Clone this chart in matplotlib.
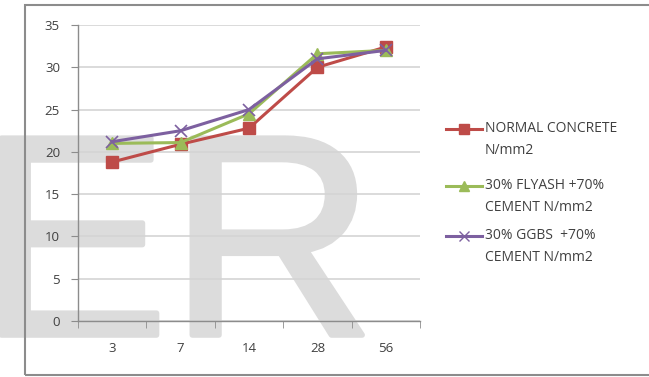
import matplotlib.pyplot as plt
import matplotlib.patheffects as pe
from matplotlib.patches import Rectangle
from matplotlib.lines import Line2D

# curing age (days) and compressive strength, N/mm2
days = ['3', '7', '14', '28', '56']
normal = [18.8, 20.9, 22.8, 30.0, 32.4]
flyash = [21.0, 21.1, 24.5, 31.6, 32.0]
ggbs = [21.2, 22.5, 25.0, 31.0, 32.0]

labels = ['NORMAL CONCRETE\nN/mm2',
          '30% FLYASH +70%\nCEMENT N/mm2',
          '30% GGBS  +70%\nCEMENT N/mm2']
colors = ['#BE4B48', '#9BBB59', '#7D60A0']
markers = ['s', '^', 'x']

plt.rcParams['font.family'] = 'Open Sans'

W, H = 649, 377
fig = plt.figure(figsize=(W / 100, H / 100), dpi=100)

# outer chart frame (right side runs past the edge)
fig.patches.append(Rectangle((25 / W, 2 / H), 1.2, 1 - 7 / H, transform=fig.transFigure,
                             fill=False, edgecolor='#8c8c8c', lw=1.5, zorder=-1))
# grey watermark behind the plot
wm = fig.text(-22 / W, 42 / H, 'ER', family='Liberation Sans', fontsize=206,
              color='#dcdcdc', va='baseline', ha='left', zorder=-2)
wm.set_path_effects([pe.withStroke(linewidth=4, foreground='#dcdcdc')])

ax = fig.add_axes([78 / W, 56 / H, 342 / W, 296 / H])
ax.patch.set_alpha(0)

x = range(len(days))
ax.plot(x, normal, color=colors[0], lw=2.2, marker='s', markersize=9, zorder=3)
ax.plot(x, flyash, color=colors[1], lw=2.2, marker='^', markersize=9, zorder=4)
ax.plot(x, ggbs, color=colors[2], lw=2.2, marker='x', markersize=8, mew=1.2, zorder=5)

ax.set_xlim(-0.5, 4.5)
ax.set_ylim(0, 35)
ax.set_yticks(range(0, 36, 5))
ax.set_xticks(list(x))
ax.set_xticklabels(days)
ax.set_xticks([i - 0.5 for i in range(6)], minor=True)
ax.grid(axis='y', color='#d4d4d4', lw=1.2)
ax.set_axisbelow(True)

for s in ['top', 'right']:
    ax.spines[s].set_visible(False)
for s in ['left', 'bottom']:
    ax.spines[s].set_color('#8c8c8c')
    ax.spines[s].set_linewidth(1.0)

ax.tick_params(axis='y', length=5, color='#8c8c8c', labelsize=9.5,
               labelcolor='#404040', pad=8)
ax.tick_params(axis='x', which='major', length=0, labelsize=9.5,
               labelcolor='#404040', pad=15)
ax.tick_params(axis='x', which='minor', length=5, color='#8c8c8c')

# legend, handle level with the first line of each label
rows = [129, 186, 236]
for (yp, lab, c, m) in zip(rows, labels, colors, markers):
    yf = 1 - yp / H
    fig.add_artist(Line2D([446 / W, 482 / W], [yf, yf], color=c, lw=2.2,
                          transform=fig.transFigure))
    fig.add_artist(Line2D([464 / W], [yf], color=c, marker=m, markersize=7,
                          transform=fig.transFigure))
    fig.text(485 / W, yf + 8 / H, lab, fontsize=10, color='#404040',
             va='top', ha='left', linespacing=1.6)

fig.savefig('out.png', dpi=100)
